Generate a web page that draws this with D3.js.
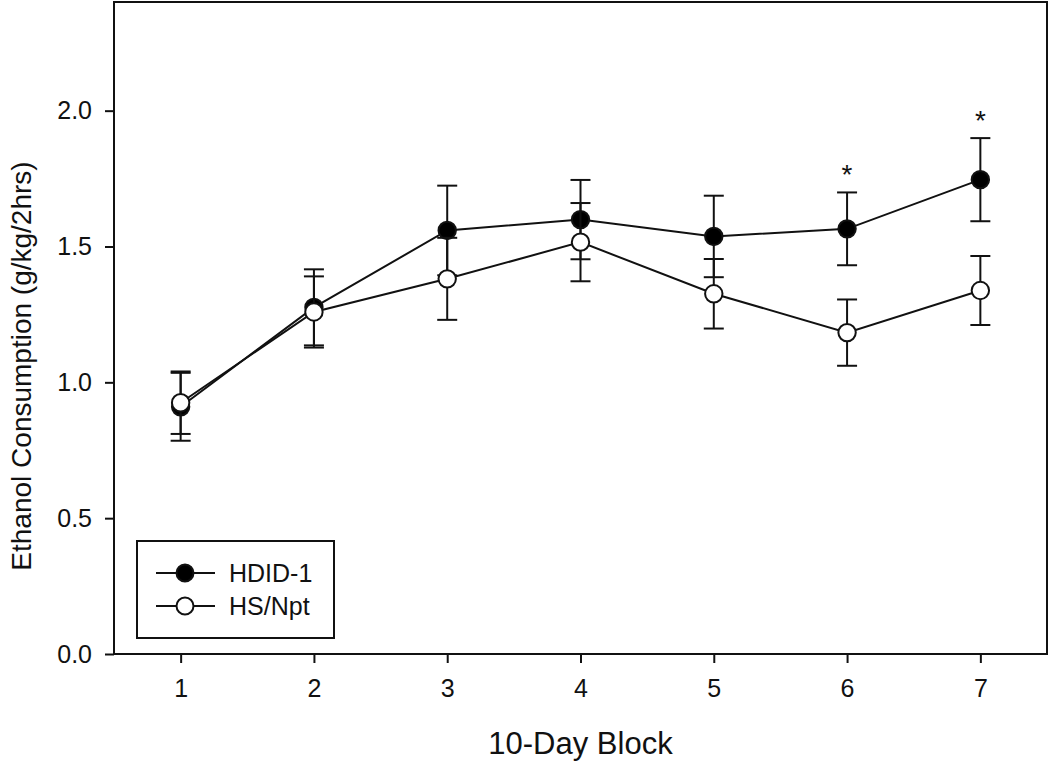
<!DOCTYPE html>
<html><head><meta charset="utf-8">
<script src="https://cdn.jsdelivr.net/npm/d3@7"></script>
<style>body{margin:0;background:#fff}svg{display:block}text{font-family:"Liberation Sans",Arial,sans-serif;fill:#111}</style>
</head><body><svg id="c" width="1050" height="766"></svg>
<script>
const blocks = [1,2,3,4,5,6,7];
const hdidMean = [0.91, 1.276, 1.559, 1.599, 1.537, 1.565, 1.746];
const hdidSE   = [0.125, 0.14, 0.165, 0.146, 0.150, 0.134, 0.153];
const hsMean   = [0.925, 1.259, 1.381, 1.516, 1.326, 1.183, 1.338];
const hsSE     = [0.115, 0.131, 0.151, 0.144, 0.128, 0.122, 0.127];
const sigBlocks = [6, 7];
const yTicks = [0, 0.5, 1.0, 1.5, 2.0];
const seriesNames = ["HDID-1", "HS/Npt"];

const svg = d3.select("#c");
const L = 114, R = 1047, T = 2, B = 654;
const x = d3.scaleLinear().domain([0.5, 7.5]).range([L, R]);
const y = d3.scaleLinear().domain([0, 2.4]).range([B, T]);

// frame
svg.append("rect").attr("x", L).attr("y", T).attr("width", R-L).attr("height", B-T)
  .attr("fill","none").attr("stroke","#111").attr("stroke-width",2);

const xAxis = svg.append("g").attr("transform",`translate(0,${B})`)
  .call(d3.axisBottom(x).tickValues(blocks).tickSize(9).tickPadding(16).tickFormat(d3.format("d")));
const yAxis = svg.append("g").attr("transform",`translate(${L},0)`)
  .call(d3.axisLeft(y).tickValues(yTicks).tickSize(9).tickPadding(13).tickFormat(d3.format(".1f")));
[xAxis, yAxis].forEach(g => {
  g.select(".domain").remove();
  g.selectAll(".tick line").attr("stroke","#111").attr("stroke-width",2);
  g.selectAll(".tick text").attr("font-size",25).attr("font-family","Liberation Sans, Arial, sans-serif").attr("fill","#111");
});

svg.append("text").attr("x",(L+R)/2).attr("y",754).attr("text-anchor","middle")
  .attr("font-size",31).text("10-Day Block");
svg.append("text").attr("transform",`translate(31,${(T+B)/2+38}) rotate(-90)`).attr("text-anchor","middle")
  .attr("font-size",28).text("Ethanol Consumption (g/kg/2hrs)");

function drawSeries(means, ses, fill) {
  const data = blocks.map((b,i)=>({b, m:means[i], s:ses[i]}));
  const g = svg.append("g");
  const eb = g.selectAll("g.eb").data(data).enter().append("g").attr("stroke","#111").attr("stroke-width",2);
  eb.append("line").attr("x1",d=>x(d.b)).attr("x2",d=>x(d.b)).attr("y1",d=>y(d.m+d.s)).attr("y2",d=>y(d.m-d.s));
  eb.append("line").attr("x1",d=>x(d.b)-10).attr("x2",d=>x(d.b)+10).attr("y1",d=>y(d.m+d.s)).attr("y2",d=>y(d.m+d.s));
  eb.append("line").attr("x1",d=>x(d.b)-10).attr("x2",d=>x(d.b)+10).attr("y1",d=>y(d.m-d.s)).attr("y2",d=>y(d.m-d.s));
  g.append("path").datum(data).attr("fill","none").attr("stroke","#111").attr("stroke-width",2)
    .attr("d", d3.line().x(d=>x(d.b)).y(d=>y(d.m)));
  g.selectAll("circle").data(data).enter().append("circle")
    .attr("cx",d=>x(d.b)).attr("cy",d=>y(d.m)).attr("r",8.7)
    .attr("fill",fill).attr("stroke","#111").attr("stroke-width",2);
}
drawSeries(hdidMean, hdidSE, "#000");
drawSeries(hsMean, hsSE, "#fff");

// significance asterisks
svg.selectAll("text.sig").data(sigBlocks).enter().append("text").attr("class","sig")
  .attr("x", d=>x(d)).attr("y", d=>{const i=blocks.indexOf(d); return y(hdidMean[i]+hdidSE[i]) - 8;})
  .attr("text-anchor","middle").attr("font-size",28).text("*");

// legend
const lg = svg.append("g");
lg.append("rect").attr("x",137).attr("y",541).attr("width",197).attr("height",97)
  .attr("fill","#fff").attr("stroke","#111").attr("stroke-width",2);
const fills = ["#000","#fff"];
seriesNames.forEach((n,i)=>{
  const yy = 573 + i*33;
  lg.append("line").attr("x1",156).attr("x2",215).attr("y1",yy).attr("y2",yy).attr("stroke","#111").attr("stroke-width",2);
  lg.append("circle").attr("cx",185).attr("cy",yy).attr("r",8.5).attr("fill",fills[i]).attr("stroke","#111").attr("stroke-width",2);
  lg.append("text").attr("x",229).attr("y",yy+9).attr("font-size",25).text(n);
});
</script></body></html>
